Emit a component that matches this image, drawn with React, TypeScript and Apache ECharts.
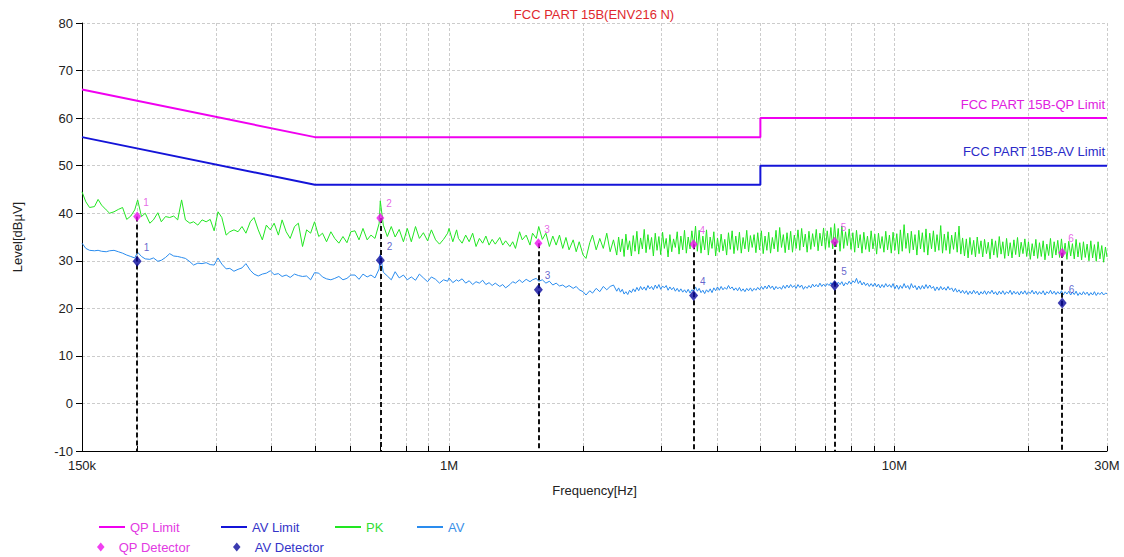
import React, { useEffect, useRef } from "react";
import * as echarts from "echarts";

const FONT = '"Liberation Sans", Arial, sans-serif';

const TITLE = "FCC PART 15B(ENV216 N)";
const X_NAME = "Frequency[Hz]";
const Y_NAME = "Level[dB\u00b5V]";
const QP_LIMIT_LABEL = "FCC PART 15B-QP Limit";
const AV_LIMIT_LABEL = "FCC PART 15B-AV Limit";

// x axis (MHz, log scale)
const X_MIN = 0.15;
const X_MAX = 30;
const X_TICKS_MHZ = [0.15, 0.2, 0.3, 0.4, 0.5, 0.6, 0.7, 0.8, 0.9, 1, 2, 3, 4, 5, 6, 7, 8, 9, 10, 20, 30];
const X_LABEL_MHZ = [0.15, 1, 10, 30];
const X_LABEL_TEXT = ["150k", "1M", "10M", "30M"];

// y axis
const Y_MIN = -10;
const Y_MAX = 80;
const Y_STEP = 10;

// limit lines
const QP_LIMIT_F = [0.15, 0.5, 5, 5, 30];
const QP_LIMIT_DB = [66, 56, 56, 60, 60];
const AV_LIMIT_F = [0.15, 0.5, 5, 5, 30];
const AV_LIMIT_DB = [56, 46, 46, 50, 50];

// final detector readings
const MARKER_F = [0.1995, 0.701, 1.587, 3.54, 7.34, 23.8];
const QP_DET = [39.3, 39.0, 33.7, 33.5, 34.0, 31.7];
const AV_DET = [29.9, 30.1, 23.9, 22.7, 24.8, 21.1];

// scan traces below 2.4 MHz: [MHz, PK dBuV, AV dBuV]
const SCAN_150K_1M = [
  [0.150, 44.5, 33.7], [0.153, 42.4, 32.6], [0.156, 41.2, 32.2], [0.160, 41.4, 32.1], [0.163, 42.9, 32.2],
  [0.166, 41.7, 32.0], [0.170, 40.7, 31.9], [0.173, 40.0, 32.1], [0.177, 40.3, 32.2], [0.181, 40.8, 31.9],
  [0.185, 41.2, 31.6], [0.189, 38.7, 31.2], [0.193, 39.4, 30.9], [0.197, 40.7, 30.6], [0.200, 42.8, 31.8],
  [0.204, 39.3, 30.9], [0.208, 40.0, 30.4], [0.213, 37.9, 30.3], [0.217, 38.6, 30.6], [0.222, 40.1, 29.9],
  [0.226, 38.2, 30.1], [0.231, 39.3, 30.7], [0.236, 39.1, 31.5], [0.241, 39.4, 31.0], [0.246, 38.6, 30.9],
  [0.251, 42.8, 30.7], [0.256, 38.6, 30.5], [0.262, 37.9, 29.8], [0.267, 38.2, 29.1], [0.273, 37.5, 29.5],
  [0.279, 38.6, 29.4], [0.285, 38.2, 29.6], [0.291, 38.7, 29.2], [0.297, 36.3, 29.1], [0.303, 40.3, 30.6],
  [0.309, 39.1, 29.3], [0.316, 35.4, 28.3], [0.322, 36.1, 28.4], [0.329, 36.5, 27.8], [0.336, 36.1, 28.2],
  [0.343, 37.2, 28.5], [0.350, 35.8, 29.4], [0.358, 38.2, 28.0], [0.365, 39.1, 27.2], [0.373, 36.5, 26.8],
  [0.381, 34.4, 27.2], [0.389, 37.5, 27.4], [0.397, 36.5, 27.9], [0.405, 37.9, 27.1], [0.414, 35.4, 27.3],
  [0.422, 38.6, 26.7], [0.431, 36.1, 27.0], [0.440, 34.7, 26.5], [0.450, 37.2, 27.2], [0.459, 37.9, 26.9],
  [0.469, 33.0, 26.7], [0.479, 36.5, 26.8], [0.489, 35.8, 26.0], [0.499, 38.2, 27.5], [0.510, 35.1, 27.4],
  [0.520, 35.8, 26.6], [0.531, 34.0, 26.2], [0.543, 36.1, 26.0], [0.554, 34.7, 26.3], [0.566, 33.7, 26.7],
  [0.578, 35.1, 26.0], [0.590, 33.8, 26.3], [0.602, 36.1, 27.0], [0.615, 36.3, 27.0], [0.628, 34.4, 26.1],
  [0.641, 36.8, 27.2], [0.655, 34.4, 26.6], [0.668, 35.4, 27.0], [0.682, 34.7, 26.4], [0.697, 37.9, 28.3],
  [0.701, 42.6, 31.4], [0.712, 37.5, 27.6], [0.727, 35.1, 26.8], [0.742, 37.2, 26.0], [0.757, 35.0, 27.7],
  [0.773, 36.6, 26.4], [0.790, 34.0, 27.0], [0.806, 36.8, 26.0], [0.823, 34.0, 26.6], [0.841, 37.2, 25.9],
  [0.858, 34.7, 27.2], [0.876, 35.9, 26.4], [0.895, 34.2, 25.6], [0.913, 36.5, 26.6], [0.933, 34.4, 26.1],
  [0.952, 33.5, 25.3], [0.972, 34.5, 26.0], [0.993, 35.8, 25.7],
];

const SCAN_1M_2M4 = [
  [1.00, 36.8, 26.4], [1.02, 34.0, 25.4], [1.04, 36.5, 26.0], [1.05, 34.7, 25.7], [1.07, 33.7, 26.2],
  [1.09, 35.4, 25.3], [1.11, 34.0, 25.8], [1.13, 35.8, 25.0], [1.15, 33.0, 25.6], [1.17, 34.7, 25.3],
  [1.19, 33.7, 25.9], [1.21, 35.2, 25.0], [1.23, 33.3, 25.4], [1.25, 34.5, 24.8], [1.27, 33.5, 25.3],
  [1.30, 34.9, 24.6], [1.32, 33.3, 25.0], [1.34, 34.2, 24.3], [1.37, 33.0, 25.0], [1.39, 34.0, 25.6],
  [1.41, 32.6, 25.3], [1.44, 36.1, 26.0], [1.46, 34.4, 25.4], [1.49, 35.4, 26.1], [1.52, 33.3, 25.6],
  [1.54, 35.8, 26.0], [1.57, 34.7, 26.3], [1.59, 37.2, 25.7], [1.62, 34.5, 26.0], [1.65, 35.8, 25.3],
  [1.68, 33.0, 25.7], [1.71, 35.2, 24.9], [1.74, 33.3, 25.3], [1.77, 35.4, 24.7], [1.80, 32.6, 24.9],
  [1.83, 34.9, 24.4], [1.86, 32.3, 24.8], [1.90, 34.4, 24.2], [1.93, 31.9, 24.6], [1.96, 34.0, 23.9],
  [2.00, 31.2, 23.5], [2.03, 30.5, 22.8], [2.07, 33.8, 23.7], [2.10, 35.4, 23.2], [2.14, 32.3, 24.2],
  [2.18, 34.7, 23.5], [2.22, 32.6, 24.6], [2.26, 35.8, 23.9], [2.30, 31.9, 24.6], [2.34, 34.4, 24.9],
];

// dense part of the scan, 2.4 MHz - 30 MHz
const FREQ_2M4_30M = [
  2.380, 2.403, 2.426, 2.449, 2.472, 2.495, 2.519, 2.543, 2.567, 2.592,
  2.616, 2.641, 2.666, 2.692, 2.717, 2.743, 2.769, 2.796, 2.822, 2.849,
  2.876, 2.904, 2.931, 2.959, 2.987, 3.016, 3.044, 3.073, 3.103, 3.132,
  3.162, 3.192, 3.222, 3.253, 3.284, 3.315, 3.347, 3.378, 3.410, 3.443,
  3.476, 3.509, 3.542, 3.576, 3.610, 3.644, 3.679, 3.714, 3.749, 3.785,
  3.821, 3.857, 3.894, 3.931, 3.968, 4.006, 4.044, 4.082, 4.121, 4.160,
  4.200, 4.240, 4.280, 4.321, 4.362, 4.403, 4.445, 4.487, 4.530, 4.573,
  4.616, 4.660, 4.704, 4.749, 4.794, 4.840, 4.886, 4.932, 4.979, 5.026,
  5.074, 5.122, 5.171, 5.220, 5.270, 5.320, 5.370, 5.421, 5.473, 5.525,
  5.577, 5.630, 5.684, 5.738, 5.792, 5.847, 5.903, 5.959, 6.016, 6.073,
  6.130, 6.189, 6.247, 6.307, 6.367, 6.427, 6.488, 6.550, 6.612, 6.675,
  6.738, 6.802, 6.867, 6.932, 6.998, 7.064, 7.131, 7.199, 7.268, 7.337,
  7.406, 7.477, 7.548, 7.619, 7.692, 7.765, 7.839, 7.913, 7.988, 8.064,
  8.141, 8.218, 8.296, 8.375, 8.455, 8.535, 8.616, 8.698, 8.780, 8.864,
  8.948, 9.033, 9.119, 9.206, 9.293, 9.381, 9.470, 9.560, 9.651, 9.743,
  9.836, 9.929, 10.02, 10.12, 10.22, 10.31, 10.41, 10.51, 10.61, 10.71,
  10.81, 10.91, 11.02, 11.12, 11.23, 11.34, 11.44, 11.55, 11.66, 11.77,
  11.88, 12.00, 12.11, 12.23, 12.34, 12.46, 12.58, 12.70, 12.82, 12.94,
  13.06, 13.19, 13.31, 13.44, 13.57, 13.70, 13.83, 13.96, 14.09, 14.22,
  14.36, 14.50, 14.63, 14.77, 14.91, 15.06, 15.20, 15.34, 15.49, 15.64,
  15.78, 15.93, 16.09, 16.24, 16.39, 16.55, 16.71, 16.86, 17.02, 17.19,
  17.35, 17.51, 17.68, 17.85, 18.02, 18.19, 18.36, 18.54, 18.71, 18.89,
  19.07, 19.25, 19.43, 19.62, 19.81, 19.99, 20.18, 20.38, 20.57, 20.77,
  20.96, 21.16, 21.36, 21.57, 21.77, 21.98, 22.19, 22.40, 22.61, 22.83,
  23.04, 23.26, 23.48, 23.71, 23.93, 24.16, 24.39, 24.62, 24.86, 25.09,
  25.33, 25.57, 25.82, 26.06, 26.31, 26.56, 26.81, 27.07, 27.33, 27.59,
  27.85, 28.11, 28.38, 28.65, 28.92, 29.20, 29.48, 29.76, 30.00,
];

const PK_2M4_30M = [
  31.2, 35.0, 31.9, 34.6, 30.9, 35.6, 32.3, 34.2, 31.0, 35.3,
  32.0, 36.2, 31.4, 34.8, 32.5, 36.6, 31.7, 35.5, 32.4, 34.9,
  31.0, 35.8, 32.2, 35.1, 31.3, 36.0, 32.6, 34.7, 30.8, 35.5,
  31.9, 34.6, 32.8, 36.1, 31.4, 35.2, 32.3, 36.4, 31.6, 35.0,
  32.5, 36.3, 33.0, 37.3, 32.0, 36.4, 31.6, 35.2, 32.3, 36.5,
  31.2, 35.0, 32.6, 36.1, 31.0, 34.8, 31.8, 35.6, 32.1, 34.5,
  31.2, 35.9, 32.4, 36.3, 31.5, 35.2, 32.2, 36.0, 31.6, 34.9,
  32.5, 36.4, 31.9, 35.3, 32.8, 35.5, 31.7, 35.9, 32.3, 36.3,
  31.5, 35.2, 32.2, 36.0, 31.6, 34.9, 32.5, 36.4, 31.9, 37.0,
  32.8, 35.5, 31.7, 35.9, 32.3, 36.2, 31.8, 35.4, 32.6, 36.5,
  32.2, 36.8, 32.9, 35.6, 31.8, 36.2, 32.4, 35.7, 33.0, 36.6,
  32.1, 35.8, 33.1, 36.9, 32.4, 36.3, 32.8, 37.0, 32.5, 37.8,
  32.9, 36.8, 32.0, 37.3, 32.6, 36.1, 33.2, 36.7, 32.4, 35.9,
  31.8, 36.4, 32.7, 35.5, 31.6, 36.0, 32.4, 35.2, 31.9, 36.3,
  32.5, 35.6, 31.4, 35.8, 32.6, 35.1, 31.8, 36.2, 32.3, 35.4,
  31.6, 36.0, 32.2, 35.7, 31.4, 36.5, 32.0, 37.6, 32.6, 35.8,
  31.6, 36.2, 32.3, 35.5, 31.2, 36.4, 32.5, 35.9, 31.8, 36.7,
  31.2, 35.8, 32.5, 36.3, 31.9, 35.5, 32.2, 37.4, 31.6, 35.6,
  32.2, 36.1, 31.5, 35.4, 32.4, 36.0, 31.8, 37.3, 31.4, 34.8,
  31.0, 34.6, 30.6, 34.9, 31.3, 34.3, 30.8, 35.0, 31.5, 34.2,
  30.8, 34.5, 31.5, 33.9, 30.4, 34.6, 31.2, 34.2, 30.7, 35.1,
  31.4, 34.0, 30.5, 34.7, 31.0, 33.8, 30.6, 34.4, 31.3, 34.9,
  30.8, 33.9, 31.5, 34.6, 30.9, 34.0, 30.3, 33.6, 31.0, 34.5,
  30.5, 33.8, 30.9, 34.2, 30.2, 33.5, 31.1, 34.7, 30.6, 34.0,
  31.2, 34.3, 30.7, 34.6, 30.9, 33.7, 30.3, 34.1, 31.0, 33.6,
  30.4, 34.5, 30.8, 33.8, 30.2, 34.0, 30.7, 33.5, 30.0, 34.2,
  30.6, 33.4, 29.9, 34.0, 30.4, 33.2, 29.7, 32.9, 30.8,
];

const AV_2M4_30M = [
  23.6, 24.3, 23.4, 24.0, 23.0, 23.5, 22.9, 23.8, 23.3, 24.1,
  23.5, 24.4, 23.7, 24.6, 23.9, 24.5, 23.8, 24.8, 24.1, 24.6,
  23.9, 24.9, 24.2, 25.0, 24.0, 24.7, 24.3, 24.8, 23.8, 24.5,
  23.9, 24.4, 23.6, 24.2, 23.5, 24.1, 23.4, 23.9, 23.3, 24.0,
  23.2, 23.9, 23.6, 24.5, 23.6, 24.2, 23.3, 23.8, 23.1, 23.9,
  23.4, 24.1, 23.3, 24.3, 23.7, 24.5, 23.8, 24.6, 23.9, 24.4,
  24.0, 24.8, 24.1, 24.5, 23.8, 24.3, 23.7, 24.4, 23.6, 24.1,
  23.5, 24.2, 23.7, 24.3, 23.6, 24.2, 23.8, 24.4, 23.9, 24.6,
  24.0, 24.7, 24.1, 24.9, 24.2, 24.7, 23.9, 24.6, 24.1, 24.5,
  24.0, 24.8, 24.2, 24.9, 24.3, 25.0, 24.4, 24.8, 24.2, 25.0,
  24.4, 24.9, 24.0, 24.6, 24.2, 24.8, 24.3, 25.1, 24.5, 25.0,
  24.5, 25.3, 24.6, 25.1, 24.6, 25.2, 24.8, 25.4, 24.9, 25.6,
  24.9, 25.5, 25.0, 25.6, 24.7, 25.4, 25.0, 25.7, 25.1, 25.8,
  25.4, 26.3, 25.2, 25.8, 24.9, 25.5, 24.8, 25.3, 24.6, 25.2,
  24.6, 25.3, 24.5, 25.1, 24.3, 25.0, 24.4, 25.2, 24.5, 25.0,
  24.4, 25.2, 24.1, 24.9, 24.0, 24.8, 24.2, 25.2, 24.3, 24.8,
  24.0, 25.2, 24.3, 24.8, 23.9, 24.7, 24.0, 24.8, 24.1, 25.0,
  24.2, 24.9, 24.2, 24.6, 23.7, 24.5, 23.8, 24.6, 23.9, 24.4,
  23.8, 24.6, 23.9, 24.3, 23.5, 24.2, 23.4, 23.9, 23.2, 23.8,
  23.1, 23.7, 22.9, 23.6, 23.0, 23.8, 23.1, 23.6, 22.8, 23.5,
  23.0, 23.7, 22.9, 23.6, 23.1, 23.8, 23.0, 23.5, 22.8, 23.6,
  23.0, 23.7, 22.9, 23.5, 23.1, 23.8, 22.9, 23.6, 23.0, 23.5,
  22.8, 23.6, 23.0, 23.7, 22.9, 23.5, 23.1, 23.8, 23.0, 23.6,
  22.9, 23.5, 23.0, 23.7, 22.8, 23.5, 23.1, 23.8, 23.0, 23.6,
  22.9, 23.5, 23.0, 23.7, 22.8, 23.5, 23.0, 23.6, 22.8, 23.4,
  22.9, 23.6, 22.7, 23.3, 22.8, 23.5, 22.9, 23.4, 22.7, 23.3,
  22.8, 23.5, 22.7, 23.3, 22.9, 23.4, 22.8, 23.2, 23.1,
];

// colours
const C_QP_LIMIT = "#f000f0";
const C_AV_LIMIT = "#1414d8";
const C_PK = "#22e622";
const C_AV = "#2a8cee";
const C_QP_DET = "#ee10ee";
const C_AV_DET = "#0a0a9c";
const C_TEXT = "#222222";
const C_GRID = "#cccccc";

function xLabel(v: number): string {
  for (let i = 0; i < X_LABEL_MHZ.length; i++) {
    if (Math.abs(Math.log10(v / X_LABEL_MHZ[i])) < 0.005) return X_LABEL_TEXT[i];
  }
  return "";
}

function lineLegend(name: string, left: number, top: number, color: string) {
  return {
    show: true,
    left,
    top,
    padding: 0,
    orient: "horizontal",
    selectedMode: false,
    icon: "rect",
    itemWidth: 26,
    itemHeight: 2,
    itemGap: 0,
    data: [{ name }],
    textStyle: { color, fontSize: 13, fontFamily: FONT, lineHeight: 14 },
  };
}

function diamondLegend(name: string, left: number, top: number, color: string) {
  return {
    show: true,
    left,
    top,
    padding: 0,
    orient: "horizontal",
    selectedMode: false,
    icon: "path://M5,0L10,6L5,12L0,6Z",
    symbolKeepAspect: true,
    itemWidth: 26,
    itemHeight: 9,
    itemGap: 0,
    data: [{ name }],
    textStyle: { color, fontSize: 13, fontFamily: FONT, lineHeight: 14 },
  };
}

function buildOption() {
  const low = [...SCAN_150K_1M, ...SCAN_1M_2M4];
  const n = Math.min(FREQ_2M4_30M.length, PK_2M4_30M.length, AV_2M4_30M.length);
  const pkData: number[][] = low.map((r) => [r[0], r[1]]);
  const avData: number[][] = low.map((r) => [r[0], r[2]]);
  for (let i = 0; i < n; i++) {
    pkData.push([FREQ_2M4_30M[i], PK_2M4_30M[i]]);
    avData.push([FREQ_2M4_30M[i], AV_2M4_30M[i]]);
  }
  const qpLimit = QP_LIMIT_F.map((f, i) => [f, QP_LIMIT_DB[i]]);
  const avLimit = AV_LIMIT_F.map((f, i) => [f, AV_LIMIT_DB[i]]);
  const qpDet = MARKER_F.map((f, i) => [f, QP_DET[i]]);
  const avDet = MARKER_F.map((f, i) => [f, AV_DET[i]]);
  const stems = MARKER_F.map((f, i) => [{ coord: [f, QP_DET[i]] }, { coord: [f, Y_MIN] }]);

  return {
    animation: false,
    backgroundColor: "#ffffff",
    textStyle: { fontFamily: FONT },
    grid: { left: 82, right: 17, top: 23, bottom: 106, containLabel: false },
    graphic: [
      {
        type: "text",
        x: 594,
        y: 14,
        style: {
          text: TITLE,
          fill: "#e0282e",
          fontSize: 13,
          fontFamily: FONT,
          align: "center",
          verticalAlign: "middle",
        },
      },
    ],
    legend: [
      lineLegend("QP Limit", 99, 520, "#e23ae2"),
      lineLegend("AV Limit", 221, 520, "#3434c8"),
      lineLegend("PK", 335, 520, "#33dd33"),
      lineLegend("AV", 417, 520, "#3a90e8"),
      diamondLegend("QP Detector", 97, 540, "#e23ae2"),
      diamondLegend("AV Detector", 233, 540, "#3434c8"),
    ],
    xAxis: {
      type: "log",
      logBase: 10,
      min: X_MIN,
      max: X_MAX,
      name: X_NAME,
      nameLocation: "middle",
      nameGap: 33,
      nameTextStyle: { color: C_TEXT, fontSize: 13, fontFamily: FONT },
      axisLine: { show: true, onZero: false, lineStyle: { color: "#000", width: 1 } },
      axisTick: { show: true, inside: true, length: 5, customValues: X_TICKS_MHZ, lineStyle: { color: "#000" } },
      axisLabel: {
        show: true,
        customValues: X_LABEL_MHZ,
        formatter: (v: number) => xLabel(v),
        color: C_TEXT,
        fontSize: 13,
        fontFamily: FONT,
        margin: 8,
      },
      splitLine: { show: true, lineStyle: { color: C_GRID, type: [3, 2], width: 1 } },
      minorTick: { show: false },
      minorSplitLine: { show: false },
    },
    yAxis: {
      type: "value",
      min: Y_MIN,
      max: Y_MAX,
      interval: Y_STEP,
      name: Y_NAME,
      nameLocation: "middle",
      nameGap: 58,
      nameRotate: 90,
      nameTextStyle: { color: C_TEXT, fontSize: 13, fontFamily: FONT },
      axisLine: { show: true, onZero: false, lineStyle: { color: "#000", width: 1 } },
      axisTick: { show: true, length: 6, lineStyle: { color: "#000" } },
      axisLabel: { color: C_TEXT, fontSize: 13, fontFamily: FONT, margin: 9 },
      splitLine: { show: true, lineStyle: { color: C_GRID, type: [3, 2], width: 1 } },
    },
    series: [
      {
        name: "PK",
        type: "line",
        data: pkData,
        symbol: "none",
        color: C_PK,
        lineStyle: { color: C_PK, width: 1 },
        z: 2,
        silent: true,
      },
      {
        name: "AV",
        type: "line",
        data: avData,
        symbol: "none",
        color: C_AV,
        lineStyle: { color: C_AV, width: 1 },
        z: 2,
        silent: true,
      },
      {
        name: "QP Limit",
        type: "line",
        data: qpLimit,
        symbol: "none",
        color: C_QP_LIMIT,
        lineStyle: { color: C_QP_LIMIT, width: 2 },
        z: 3,
        silent: true,
        markPoint: {
          symbol: "circle",
          symbolSize: 0,
          silent: true,
          data: [{ coord: [X_MAX, QP_LIMIT_DB[QP_LIMIT_DB.length - 1]] }],
          label: {
            show: true,
            formatter: QP_LIMIT_LABEL,
            position: "left",
            distance: 2,
            offset: [0, -14],
            color: "#e020e0",
            fontSize: 13,
            fontFamily: FONT,
          },
        },
      },
      {
        name: "AV Limit",
        type: "line",
        data: avLimit,
        symbol: "none",
        color: C_AV_LIMIT,
        lineStyle: { color: C_AV_LIMIT, width: 2 },
        z: 3,
        silent: true,
        markPoint: {
          symbol: "circle",
          symbolSize: 0,
          silent: true,
          data: [{ coord: [X_MAX, AV_LIMIT_DB[AV_LIMIT_DB.length - 1]] }],
          label: {
            show: true,
            formatter: AV_LIMIT_LABEL,
            position: "left",
            distance: 2,
            offset: [0, -14],
            color: "#2a2ac8",
            fontSize: 13,
            fontFamily: FONT,
          },
        },
      },
      {
        name: "stems",
        type: "line",
        data: qpDet,
        symbol: "none",
        lineStyle: { opacity: 0, width: 0 },
        z: 4,
        silent: true,
        markLine: {
          silent: true,
          symbol: ["none", "none"],
          label: { show: false },
          lineStyle: { color: "#111", width: 2, type: [5, 3] },
          data: stems,
        },
      },
      {
        name: "QP Detector",
        type: "scatter",
        data: qpDet,
        symbol: "diamond",
        symbolSize: [8, 10],
        color: C_QP_DET,
        itemStyle: { color: C_QP_DET },
        z: 6,
        silent: true,
        label: {
          show: true,
          formatter: (p: any) => String(p.dataIndex + 1),
          position: "right",
          distance: 2,
          offset: [0, -14],
          color: "#e040e0",
          fontSize: 10,
          fontFamily: FONT,
        },
      },
      {
        name: "AV Detector",
        type: "scatter",
        data: avDet,
        symbol: "diamond",
        symbolSize: [9, 11],
        color: C_AV_DET,
        itemStyle: { color: C_AV_DET },
        z: 6,
        silent: true,
        label: {
          show: true,
          formatter: (p: any) => String(p.dataIndex + 1),
          position: "right",
          distance: 2,
          offset: [0, -14],
          color: "#3c3cc0",
          fontSize: 10,
          fontFamily: FONT,
        },
      },
    ],
  };
}

export default function App() {
  const ref = useRef<HTMLDivElement>(null);
  useEffect(() => {
    if (!ref.current) return;
    const chart = echarts.init(ref.current, undefined, { renderer: "svg" });
    chart.setOption(buildOption() as any);
    return () => {
      chart.dispose();
    };
  }, []);
  return (
    <div
      ref={ref}
      style={{ position: "fixed", left: 0, top: 0, width: 1124, height: 557, background: "#ffffff" }}
    />
  );
}
